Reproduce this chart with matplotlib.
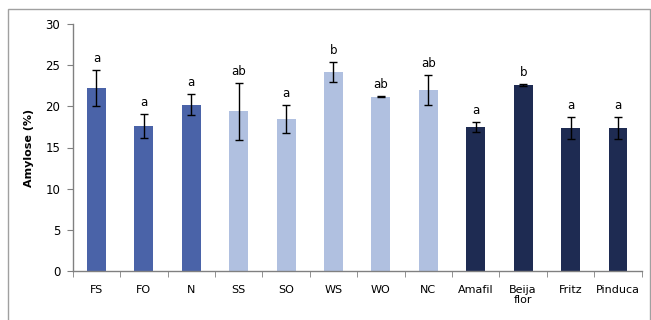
import matplotlib
matplotlib.use("Agg")
import matplotlib.pyplot as plt
from matplotlib.patches import Rectangle
import numpy as np

categories = ["FS", "FO", "N", "SS", "SO", "WS", "WO", "NC",
              "Amafil", "Beija\nflor", "Fritz", "Pinduca"]
amylose = [22.2, 17.6, 20.2, 19.4, 18.5, 24.2, 21.2, 22.0, 17.5, 22.6, 17.4, 17.4]
errors = [2.2, 1.5, 1.3, 3.45, 1.7, 1.25, 0.05, 1.85, 0.6, 0.1, 1.35, 1.35]
letters = ["a", "a", "a", "ab", "a", "b", "ab", "ab", "a", "b", "a", "a"]
groups = [0, 0, 0, 1, 1, 1, 1, 1, 2, 2, 2, 2]

group_colors = ["#4A63A8", "#B0C0E0", "#1E2B52"]
axis_grey = "#808080"

plt.rcParams["font.family"] = "DejaVu Sans"

fig = plt.figure(figsize=(6.51, 3.20), dpi=100)
ax = fig.add_axes([72.7 / 651, 1 - 270.7 / 320, 569 / 651, 246.4 / 320])

x = np.arange(len(categories))
colors = [group_colors[g] for g in groups]
ax.bar(x, amylose, width=0.4, color=colors, zorder=2)
ax.errorbar(x, amylose, yerr=errors, fmt="none", ecolor="black",
            elinewidth=1.0, capsize=3, capthick=1.0, zorder=3)

for xi, v, e, lab in zip(x, amylose, errors, letters):
    ax.text(xi, v + e + 0.6, lab, ha="center", va="bottom", fontsize=8.5)

ax.set_xlim(-0.5, len(categories) - 0.5)
ax.set_ylim(0, 30)
ax.set_yticks(range(0, 31, 5))
ax.set_xticks(x)
ax.set_xticklabels(categories, fontsize=8, linespacing=1.1)
ax.set_xticks(np.arange(-0.5, len(categories)), minor=True)
ax.tick_params(axis="x", which="major", length=0, pad=10)
ax.tick_params(axis="x", which="minor", length=4, color=axis_grey, direction="out")
ax.tick_params(axis="y", labelsize=8.5, length=4, color=axis_grey, pad=5)

for side in ["top", "right"]:
    ax.spines[side].set_visible(False)
for side in ["left", "bottom"]:
    ax.spines[side].set_color(axis_grey)
    ax.spines[side].set_linewidth(1.0)

ax.set_ylabel("Amylose (%)", fontsize=8, fontweight="bold", labelpad=8)

# chart frame
fig.patches.append(Rectangle((8 / 651, -0.1), 642 / 651, 1.1 - 9 / 320,
                             transform=fig.transFigure, fill=False,
                             edgecolor="#A0A0A0", linewidth=1.0))

fig.savefig("out.png", dpi=100)
